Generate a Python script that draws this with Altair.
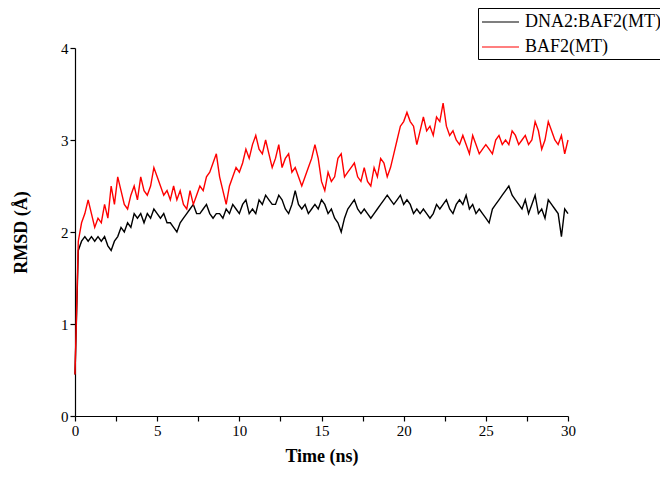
import altair as alt
import pandas as pd

time_ns = [round(i * 0.2, 1) for i in range(151)]

rmsd_complex = [
    0.45, 1.8, 1.9, 1.95, 1.9, 1.95, 1.9, 1.95, 1.9, 1.95,
    1.85, 1.8, 1.9, 1.95, 2.05, 2.0, 2.1, 2.05, 2.2, 2.15,
    2.2, 2.1, 2.2, 2.15, 2.25, 2.2, 2.15, 2.2, 2.1, 2.1,
    2.05, 2.0, 2.1, 2.15, 2.2, 2.25, 2.3, 2.2, 2.2, 2.25,
    2.3, 2.2, 2.15, 2.2, 2.2, 2.15, 2.25, 2.2, 2.3, 2.25,
    2.2, 2.3, 2.35, 2.2, 2.25, 2.2, 2.35, 2.3, 2.4, 2.35,
    2.3, 2.3, 2.4, 2.35, 2.25, 2.2, 2.3, 2.45, 2.3, 2.25,
    2.3, 2.2, 2.25, 2.3, 2.25, 2.35, 2.3, 2.2, 2.25, 2.15,
    2.1, 2.0, 2.15, 2.25, 2.3, 2.35, 2.25, 2.2, 2.25, 2.2,
    2.15, 2.2, 2.25, 2.3, 2.35, 2.4, 2.35, 2.3, 2.35, 2.4,
    2.3, 2.35, 2.3, 2.2, 2.25, 2.2, 2.25, 2.2, 2.15, 2.2,
    2.3, 2.25, 2.3, 2.35, 2.25, 2.2, 2.3, 2.35, 2.3, 2.4,
    2.25, 2.3, 2.2, 2.25, 2.2, 2.15, 2.1, 2.25, 2.3, 2.35,
    2.4, 2.45, 2.5, 2.4, 2.35, 2.3, 2.25, 2.35, 2.2, 2.3,
    2.4, 2.2, 2.25, 2.15, 2.35, 2.3, 2.25, 2.2, 1.95, 2.25,
    2.2,
]

rmsd_protein = [
    0.45, 1.9, 2.1, 2.2, 2.35, 2.2, 2.05, 2.15, 2.1, 2.3,
    2.15, 2.5, 2.3, 2.6, 2.45, 2.3, 2.25, 2.4, 2.5, 2.35,
    2.6, 2.45, 2.4, 2.5, 2.7, 2.6, 2.5, 2.4, 2.45, 2.35,
    2.5, 2.35, 2.45, 2.3, 2.25, 2.45, 2.3, 2.4, 2.5, 2.45,
    2.6, 2.65, 2.75, 2.85, 2.6, 2.45, 2.3, 2.5, 2.6, 2.7,
    2.65, 2.75, 2.9, 2.8, 2.95, 3.05, 2.9, 2.85, 3.0, 2.85,
    2.7, 2.8, 2.95, 2.7, 2.8, 2.85, 2.65, 2.7, 2.6, 2.5,
    2.6, 2.7, 2.8, 2.95, 2.8, 2.55, 2.45, 2.65, 2.55, 2.6,
    2.8, 2.85, 2.6, 2.65, 2.7, 2.75, 2.6, 2.55, 2.7, 2.55,
    2.5, 2.7, 2.6, 2.8, 2.75, 2.6, 2.7, 2.85, 3.0, 3.15,
    3.2, 3.3, 3.2, 3.15, 2.95, 3.1, 3.25, 3.1, 3.15, 3.05,
    3.25, 3.2, 3.4, 3.15, 3.05, 3.1, 3.0, 2.95, 3.05, 2.95,
    2.85, 3.05, 2.95, 2.85, 2.9, 2.95, 2.9, 2.85, 3.0, 3.05,
    2.95, 3.0, 2.95, 3.1, 3.05, 2.95, 3.0, 3.05, 2.95, 3.0,
    3.2, 3.1, 2.9, 3.0, 3.2, 3.1, 3.0, 2.95, 3.05, 2.85,
    3.0,
]

series_names = ["DNA2:BAF2(MT)", "BAF2(MT)"]
series_colors = ["#000000", "#ff0000"]

rows = []
for t, v in zip(time_ns, rmsd_complex):
    rows.append({"t": t, "rmsd": v, "series": series_names[0]})
for t, v in zip(time_ns, rmsd_protein):
    rows.append({"t": t, "rmsd": v, "series": series_names[1]})
df = pd.DataFrame(rows)

font = "Liberation Serif"

chart = alt.Chart(df).mark_line(strokeWidth=1.4).encode(
    x=alt.X("t:Q", title="Time (ns)",
            scale=alt.Scale(domain=[0, 30], nice=False),
            axis=alt.Axis(values=[i * 2.5 for i in range(13)],
                          labelExpr="datum.value % 5 == 0 ? datum.label : ''",
                          format="d", grid=False, titleFontWeight="bold",
                          labelFlush=False, titlePadding=9)),
    y=alt.Y("rmsd:Q", title="RMSD (Å)",
            scale=alt.Scale(domain=[0, 4], nice=False),
            axis=alt.Axis(values=[i * 0.5 for i in range(9)],
                          labelExpr="datum.value % 1 == 0 ? datum.label : ''",
                          format="d", grid=False, titleFontWeight="bold",
                          labelFlush=False, titlePadding=30)),
    color=alt.Color("series:N",
                    scale=alt.Scale(domain=series_names, range=series_colors),
                    legend=alt.Legend(title=None, orient="none",
                                      legendX=403, legendY=-40,
                                      symbolType="M-1,0H2.7", symbolSize=400,
                                      symbolStrokeWidth=1.2,
                                      labelOffset=22,
                                      labelFont=font, labelFontSize=18,
                                      labelColor="#000000",
                                      strokeColor="#000000", fillColor="#ffffff",
                                      padding=3, rowPadding=5)),
    detail="series:N",
).properties(
    width=493, height=368,
    autosize=alt.AutoSizeParams(type="none"),
    padding={"left": 67, "top": 40, "right": 92, "bottom": 54},
).configure_view(stroke=None).configure_axis(
    domainColor="#000000", tickColor="#000000", domainWidth=1.2,
    tickWidth=1.2, tickSize=5,
    labelFont=font, labelFontSize=15, labelColor="#000000",
    titleFont=font, titleFontSize=18, titleColor="#000000",
)

chart.save("out.html", embed_options={"renderer": "svg", "actions": False})
